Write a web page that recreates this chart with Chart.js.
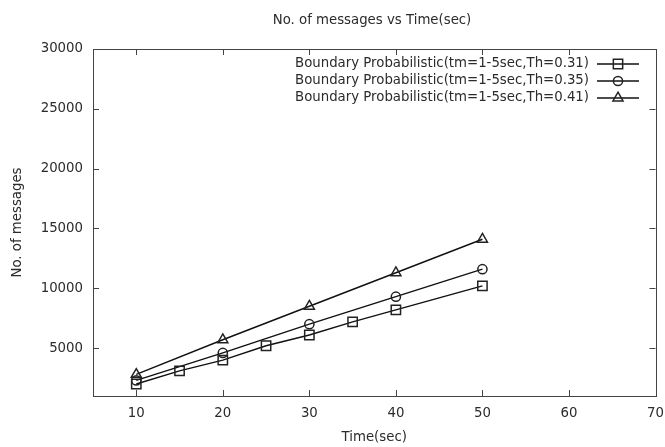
<!DOCTYPE html>
<html>
<head>
<meta charset="utf-8">
<script src="https://cdn.jsdelivr.net/npm/chart.js@4/dist/chart.umd.min.js"></script>
<style>
  html, body { margin: 0; padding: 0; background: #fff; }
  #wrap { width: 665px; height: 447px; }
</style>
</head>
<body>
<div id="wrap"><canvas id="c" width="665" height="447"></canvas></div>
<script>
const chartTitle = 'No. of messages vs Time(sec)';
const xTitle = 'Time(sec)';
const yTitle = 'No. of messages';

const xTicks = [10, 20, 30, 40, 50, 60, 70];
const yTicks = [5000, 10000, 15000, 20000, 25000, 30000];

const labels = [
  'Boundary Probabilistic(tm=1-5sec,Th=0.31)',
  'Boundary Probabilistic(tm=1-5sec,Th=0.35)',
  'Boundary Probabilistic(tm=1-5sec,Th=0.41)'
];
const markers = ['rect', 'circle', 'triangle'];
const markerRadius = [6.6, 4.6, 5.8];

const timeA = [10, 15, 20, 25, 30, 35, 40, 50];
const msgA  = [2000, 3100, 4000, 5200, 6100, 7200, 8200, 10200];
const timeB = [10, 20, 30, 40, 50];
const msgB  = [2300, 4600, 7000, 9300, 11600];
const timeC = [10, 20, 30, 40, 50];
const msgC  = [2800, 5700, 8500, 11300, 14100];

const FONT = 'DejaVu Sans';
const FS = 13.3;
const TXT = '#2b2b2b';
const AXIS = '#444444';

function pts(xs, ys) { return xs.map((x, i) => ({ x: x, y: ys[i] })); }

const seriesX = [timeA, timeB, timeC];
const seriesY = [msgA, msgB, msgC];

const datasets = labels.map((lab, i) => ({
  label: lab,
  data: pts(seriesX[i], seriesY[i]),
  borderColor: '#111111',
  borderWidth: 1.4,
  backgroundColor: 'rgba(0,0,0,0)',
  pointStyle: markers[i],
  pointRadius: markerRadius[i],
  pointBorderWidth: 1.5,
  pointBorderColor: '#222222',
  pointBackgroundColor: 'rgba(0,0,0,0)',
  tension: 0,
  fill: false
}));

const framePlugin = {
  id: 'frame',
  afterDatasetsDraw(chart) {
    const { ctx, chartArea: a, scales } = chart;
    ctx.save();
    ctx.strokeStyle = AXIS;
    ctx.lineWidth = 1;
    ctx.strokeRect(Math.round(a.left) + 0.5, Math.round(a.top) + 0.5,
                   Math.round(a.right - a.left), Math.round(a.bottom - a.top));
    const tl = 6;
    ctx.beginPath();
    xTicks.forEach(v => {
      const px = Math.round(scales.x.getPixelForValue(v)) + 0.5;
      if (px > a.left + 1 && px < a.right - 1) {
        ctx.moveTo(px, a.bottom); ctx.lineTo(px, a.bottom - tl);
        ctx.moveTo(px, a.top); ctx.lineTo(px, a.top + tl);
      }
    });
    yTicks.forEach(v => {
      const py = Math.round(scales.y.getPixelForValue(v)) + 0.5;
      if (py > a.top + 1 && py < a.bottom - 1) {
        ctx.moveTo(a.left, py); ctx.lineTo(a.left + tl, py);
        ctx.moveTo(a.right, py); ctx.lineTo(a.right - tl, py);
      }
    });
    ctx.stroke();

    // title
    ctx.fillStyle = TXT;
    ctx.font = FS + 'px "' + FONT + '"';
    ctx.textAlign = 'center';
    ctx.textBaseline = 'middle';
    ctx.fillText(chartTitle, 372, 21);

    // legend (inside, top right, text right aligned, sample on right)
    const textRight = 589;
    const lineL = 597, lineR = 639, mx = 618;
    const rowY = [64, 81, 98];
    chart.data.datasets.forEach((ds, i) => {
      const y = rowY[i];
      ctx.fillStyle = TXT;
      ctx.textAlign = 'right';
      ctx.fillText(ds.label, textRight, y);
      ctx.strokeStyle = '#111111';
      ctx.lineWidth = 1.4;
      ctx.beginPath();
      ctx.moveTo(lineL, y); ctx.lineTo(lineR, y);
      ctx.stroke();
      ctx.fillStyle = 'rgba(0,0,0,0)';
      ctx.strokeStyle = '#222222';
      ctx.lineWidth = 1.5;
      Chart.helpers.drawPoint(ctx, {
        pointStyle: ds.pointStyle, radius: ds.pointRadius, rotation: 0, borderWidth: 1.5
      }, mx, y);
    });
    ctx.restore();
  }
};

new Chart(document.getElementById('c'), {
  type: 'line',
  data: { datasets: datasets },
  options: {
    responsive: false,
    animation: false,
    devicePixelRatio: 1,
    layout: { padding: { top: 49, right: 9.5, left: 0, bottom: 0 } },
    plugins: { legend: { display: false }, title: { display: false }, tooltip: { enabled: false } },
    scales: {
      x: {
        type: 'linear',
        min: 5, max: 70,
        afterBuildTicks: s => { s.ticks = xTicks.map(v => ({ value: v })); },
        afterFit: s => { s.height = 51; s.paddingRight = 0; s.paddingLeft = 0; },
        grid: { display: false, drawTicks: false },
        border: { display: false },
        ticks: { color: TXT, font: { family: FONT, size: FS }, padding: 10, maxRotation: 0, autoSkip: false,
                 callback: v => String(v) },
        title: { display: true, text: xTitle, color: TXT, font: { family: FONT, size: FS }, padding: { top: 0, bottom: 1 } }
      },
      y: {
        type: 'linear',
        min: 1000, max: 30000,
        afterBuildTicks: s => { s.ticks = yTicks.map(v => ({ value: v })); },
        afterFit: s => { s.width = 93; s.paddingTop = 0; s.paddingBottom = 0; },
        grid: { display: false, drawTicks: false },
        border: { display: false },
        ticks: { color: TXT, font: { family: FONT, size: FS }, padding: 10, autoSkip: false,
                 callback: v => String(v) },
        title: { display: true, text: yTitle, color: TXT, font: { family: FONT, size: FS }, padding: { top: 10, bottom: 0 } }
      }
    }
  },
  plugins: [framePlugin]
});
</script>
</body>
</html>
